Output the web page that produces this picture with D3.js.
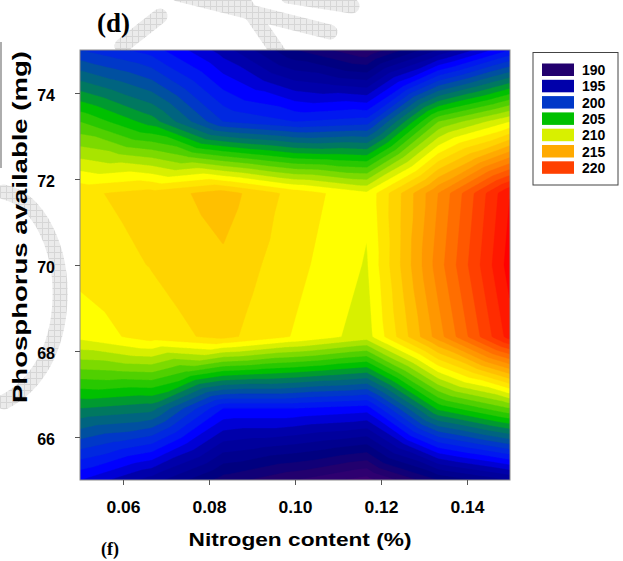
<!DOCTYPE html>
<html>
<head>
<meta charset="utf-8">
<script src="https://cdn.jsdelivr.net/npm/d3@7"></script>
<style>
  html, body { margin: 0; padding: 0; background: #fff; }
  svg { display: block; }
  .lbl { font-family: "Liberation Sans", Arial, Helvetica, sans-serif; font-weight: bold; fill: #000; }
  .panel { font-family: "Liberation Serif", "Times New Roman", serif; font-weight: bold; fill: #000; }
</style>
</head>
<body>
<svg id="chart" width="623" height="561"></svg>
<script>
// Design levels of the response surface
const nitrogenLevels = [0.05, 0.0667, 0.0833, 0.10, 0.1167, 0.1333, 0.15];
const phosphorusLevels = [75, 73.33, 71.67, 70, 68.33, 66.67, 65];

// Response at each nitrogen level, one row per phosphorus level (top to bottom)
const responseP75    = [200.0, 198.5, 195.5, 192.0, 190.0, 194.0, 198.0];
const responseP73_33 = [207.0, 204.5, 200.0, 199.0, 199.5, 208.0, 211.0];
const responseP71_67 = [212.8, 213.4, 214.5, 212.6, 211.2, 217.0, 223.0];
const responseP70    = [212.4, 213.05, 213.8, 212.3, 210.9, 217.5, 223.5];
const responseP68_33 = [211.3, 212.5, 213.3, 211.9, 210.5, 216.5, 222.5];
const responseP66_67 = [204.0, 203.4, 198.0, 198.0, 197.5, 205.3, 208.0];
const responseP65    = [197.0, 194.5, 191.5, 190.0, 188.5, 192.0, 194.0];

const xTicks = [0.06, 0.08, 0.10, 0.12, 0.14];
const yTicks = [66, 68, 70, 72, 74];
const legendLevels = [190, 195, 200, 205, 210, 215, 220];

// Colour ramp: value -> colour of the band starting at that value
const rampValues = [188, 190, 192, 195, 197, 198, 199, 200, 201, 202, 203, 204, 205, 207, 209, 210, 211, 212, 213, 214, 215, 217, 219, 220, 222, 223];
const rampColors = ["#3a0072", "#22006e", "#000080", "#0000aa", "#0000ff", "#0018f0", "#0028e0", "#0038c8", "#0050a0", "#006480", "#007860", "#009a30", "#00c000", "#50d000", "#a8e400", "#d8f000", "#ffff00", "#ffe600", "#ffd400", "#ffc000", "#ffaa00", "#ff8400", "#ff5800", "#ff4000", "#ff1800", "#ff0000"];

const responseGrid = [responseP75, responseP73_33, responseP71_67, responseP70, responseP68_33, responseP66_67, responseP65];

const plot = { left: 80, right: 510, top: 50, bottom: 480 };

const svg = d3.select("#chart");
const x = d3.scaleLinear().domain([0.05, 0.15]).range([plot.left, plot.right]);
const y = d3.scaleLinear().domain([65, 75]).range([plot.bottom, plot.top]);
const color = d3.scaleLinear().domain(rampValues).range(rampColors).clamp(true);

// Light hatched watermark strokes behind the figure
const defs = svg.append("defs");
const hatch = defs.append("pattern").attr("id", "hatch")
  .attr("width", 6).attr("height", 6).attr("patternUnits", "userSpaceOnUse");
hatch.append("rect").attr("width", 6).attr("height", 6).attr("fill", "#ebebeb");
hatch.append("path").attr("d", "M0 0.5H6M0.5 0V6").attr("stroke", "#d6d6d6").attr("stroke-width", 1);

const watermark = svg.append("g").attr("fill", "none").attr("stroke", "url(#hatch)")
  .attr("stroke-width", 15).attr("stroke-linecap", "round");
[
  "M122 46 L160 16",
  "M178 -6 L330 32",
  "M238 -6 L278 52",
  "M288 -4 L352 6",
  "M4 192 C40 200, 62 250, 60 300 C58 350, 36 386, 4 402"
].forEach(d => watermark.append("path").attr("d", d));

// Edge of the neighbouring panel
svg.append("line").attr("x1", 1).attr("x2", 1).attr("y1", 42).attr("y2", 168)
  .attr("stroke", "#777").attr("stroke-width", 1.2);

// Grid node positions in pixels
const gx = nitrogenLevels.map(x);
const gy = phosphorusLevels.map(y);

// Piecewise-linear surface: every grid cell is split into four triangles
// meeting at the cell centre, whose value is the mean of the four corners.
function surface(px, py) {
  let i = d3.bisectRight(gx, px) - 1;
  i = Math.max(0, Math.min(gx.length - 2, i));
  let j = d3.bisectRight(gy, py) - 1;
  j = Math.max(0, Math.min(gy.length - 2, j));
  const fx = (px - gx[i]) / (gx[i + 1] - gx[i]);
  const fy = (py - gy[j]) / (gy[j + 1] - gy[j]);
  const zTL = responseGrid[j][i], zTR = responseGrid[j][i + 1];
  const zBL = responseGrid[j + 1][i], zBR = responseGrid[j + 1][i + 1];
  const c = [0.5, 0.5, (zTL + zTR + zBL + zBR) / 4];
  const dx = fx - 0.5, dy = fy - 0.5;
  let a, b;
  if (dy <= -Math.abs(dx)) { a = [0, 0, zTL]; b = [1, 0, zTR]; }
  else if (dy >= Math.abs(dx)) { a = [0, 1, zBL]; b = [1, 1, zBR]; }
  else if (dx < 0) { a = [0, 0, zTL]; b = [0, 1, zBL]; }
  else { a = [1, 0, zTR]; b = [1, 1, zBR]; }
  const det = (b[1] - c[1]) * (a[0] - c[0]) + (c[0] - b[0]) * (a[1] - c[1]);
  const l1 = ((b[1] - c[1]) * (fx - c[0]) + (c[0] - b[0]) * (fy - c[1])) / det;
  const l2 = ((c[1] - a[1]) * (fx - c[0]) + (a[0] - c[0]) * (fy - c[1])) / det;
  const l3 = 1 - l1 - l2;
  return l1 * a[2] + l2 * b[2] + l3 * c[2];
}

// Sample the surface on a fine raster and trace filled bands of one unit
const step = 1;
const nx = Math.round((plot.right - plot.left) / step);
const ny = Math.round((plot.bottom - plot.top) / step);
const raster = new Float64Array(nx * ny);
for (let r = 0; r < ny; r++) {
  for (let k = 0; k < nx; k++) {
    raster[r * nx + k] = surface(plot.left + (k + 0.5) * step, plot.top + (r + 0.5) * step);
  }
}
const thresholds = d3.range(180, 226, 1);
const bands = d3.contours().size([nx, ny]).thresholds(thresholds)(raster);

const toPixels = d3.geoTransform({
  point(px, py) { this.stream.point(plot.left + px * step, plot.top + py * step); }
});
const path = d3.geoPath(toPixels);

defs.append("clipPath").attr("id", "plot-clip")
  .append("rect")
  .attr("x", plot.left).attr("y", plot.top)
  .attr("width", plot.right - plot.left).attr("height", plot.bottom - plot.top);

svg.append("g").attr("clip-path", "url(#plot-clip)")
  .selectAll("path")
  .data(bands)
  .join("path")
  .attr("d", path)
  .attr("fill", d => color(d.value))
  .attr("stroke", d => color(d.value))
  .attr("stroke-width", 0.4);

// Frame
svg.append("rect")
  .attr("x", plot.left).attr("y", plot.top)
  .attr("width", plot.right - plot.left).attr("height", plot.bottom - plot.top)
  .attr("fill", "none").attr("stroke", "#8a8a8a").attr("stroke-width", 1);

// Axes
const xAxis = svg.append("g")
  .attr("transform", `translate(0,${plot.bottom})`)
  .call(d3.axisBottom(x).tickValues(xTicks).tickFormat(d3.format(".2f")).tickSize(5).tickPadding(17));
xAxis.select(".domain").remove();
xAxis.selectAll(".tick line").attr("stroke", "#555");
xAxis.selectAll(".tick text").attr("class", "lbl").style("font-size", "16px")
  .attr("textLength", 34).attr("lengthAdjust", "spacingAndGlyphs");

const yAxis = svg.append("g")
  .attr("transform", `translate(${plot.left},0)`)
  .call(d3.axisLeft(y).tickValues(yTicks).tickFormat(d3.format("d")).tickSize(5).tickPadding(20));
yAxis.select(".domain").remove();
yAxis.selectAll(".tick line").attr("stroke", "#555");
yAxis.selectAll(".tick text").attr("class", "lbl").style("font-size", "16px").attr("dy", "0.45em");

// Axis titles
svg.append("text").attr("class", "lbl")
  .attr("x", 300).attr("y", 546)
  .attr("text-anchor", "middle")
  .style("font-size", "18px")
  .attr("textLength", 223).attr("lengthAdjust", "spacingAndGlyphs")
  .text("Nitrogen content (%)");

svg.append("text").attr("class", "lbl")
  .attr("transform", "translate(27,227) rotate(-90)")
  .attr("text-anchor", "middle")
  .style("font-size", "19.5px")
  .attr("textLength", 352).attr("lengthAdjust", "spacingAndGlyphs")
  .text("Phosphorus available (mg)");

// Panel letters
svg.append("text").attr("class", "panel")
  .attr("x", 97).attr("y", 32).style("font-size", "27px")
  .text("(d)");
svg.append("text").attr("class", "panel")
  .attr("x", 101).attr("y", 555).style("font-size", "18px")
  .text("(f)");

// Legend
const legend = svg.append("g").attr("transform", "translate(533,52.5)");
legend.append("rect").attr("width", 85).attr("height", 132.5)
  .attr("fill", "#fff").attr("stroke", "#444").attr("stroke-width", 1);
const item = legend.selectAll("g.item").data(legendLevels).join("g")
  .attr("class", "item")
  .attr("transform", (d, i) => `translate(9,${11 + i * 16.3})`);
item.append("rect").attr("width", 32).attr("height", 12.5).attr("fill", d => color(d));
item.append("text").attr("class", "lbl").attr("x", 40).attr("y", 11.5)
  .style("font-size", "14px").text(d => d);
</script>
</body>
</html>
